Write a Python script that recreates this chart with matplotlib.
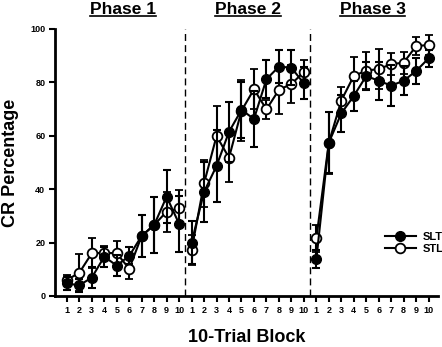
import matplotlib
matplotlib.use("Agg")
import matplotlib.pyplot as plt
from matplotlib.lines import Line2D
import numpy as np

plt.rcParams["font.family"] = ["Liberation Sans", "DejaVu Sans"]
plt.rcParams["font.weight"] = "bold"

# 10-trial blocks within each phase
blocks = list(range(1, 11))
phases = ["Phase 1", "Phase 2", "Phase 3"]

# CR percentage per block, one list per phase
slt_mean = [
    [4.7, 4.0, 6.9, 14.7, 11.4, 15.0, 22.5, 26.6, 37.2, 27.0],
    [20.0, 39.0, 48.7, 61.5, 69.7, 66.3, 81.2, 85.9, 85.5, 79.6],
    [13.7, 57.4, 68.4, 74.9, 82.4, 80.6, 78.8, 80.6, 84.3, 89.0],
]
slt_err = [
    [2.5, 2.5, 4.0, 3.7, 3.9, 3.2, 7.9, 10.6, 10.0, 10.6],
    [7.9, 11.2, 13.4, 11.2, 10.6, 10.4, 7.0, 6.2, 6.6, 6.0],
    [3.4, 11.5, 6.9, 5.5, 5.2, 7.2, 7.6, 5.4, 4.9, 3.1],
]
stl_mean = [
    [6.0, 8.7, 16.0, 16.2, 16.0, 10.2, 22.5, 26.6, 31.6, 32.8],
    [17.2, 42.2, 59.9, 51.8, 69.4, 77.4, 69.9, 77.2, 79.4, 83.9],
    [21.6, 57.4, 73.2, 82.4, 84.4, 85.0, 86.8, 87.4, 93.6, 94.0],
]
stl_err = [
    [2.0, 7.0, 5.6, 2.5, 4.5, 4.0, 7.9, 10.6, 7.5, 7.0],
    [5.6, 8.7, 11.2, 9.2, 11.5, 7.5, 3.6, 9.1, 7.0, 4.5],
    [5.0, 11.6, 5.2, 7.0, 6.9, 7.4, 4.1, 4.1, 3.5, 3.7],
]


def main():
    fig = plt.figure(figsize=(4.42, 3.47), dpi=100)
    ax = fig.add_axes([0.1244, 0.147, 0.8665, 0.7695])

    titles = []
    for p in range(3):
        x = np.arange(1, 11) + 10 * p
        ax.errorbar(x, stl_mean[p], yerr=stl_err[p], color="black", lw=1.5,
                    marker="o", ms=7, mfc="white", mec="black", mew=1.3,
                    capsize=3, capthick=1.5, elinewidth=1.5, zorder=3)
        ax.errorbar(x, slt_mean[p], yerr=slt_err[p], color="black", lw=1.5,
                    marker="o", ms=7, mfc="black", mec="black",
                    capsize=3, capthick=1.5, elinewidth=1.5, zorder=4)
        titles.append(ax.text(5.5 + 10 * p, 104.5, phases[p], ha="center",
                              va="bottom", fontsize=12.5, fontweight="bold"))

    for xd in (10.5, 20.5):
        ax.plot([xd, xd], [0, 100], color="black", lw=1, ls=(0, (5, 3)), zorder=2)

    ax.set_xlim(0.05, 30.75)
    ax.set_ylim(0, 100)
    ax.set_xticks(range(1, 31))
    ax.set_xticklabels(blocks * 3, fontsize=6.5, fontweight="bold")
    ax.set_yticks(range(0, 101, 20))
    ax.set_yticklabels(range(0, 101, 20), fontsize=6.5, fontweight="bold")
    ax.tick_params(direction="out", length=4, width=1.5, pad=3)
    for side in ("top", "right"):
        ax.spines[side].set_visible(False)
    for side in ("left", "bottom"):
        ax.spines[side].set_linewidth(2)

    ax.set_xlabel("10-Trial Block", fontsize=13, fontweight="bold", labelpad=10)
    ax.set_ylabel("CR Percentage", fontsize=13, fontweight="bold", labelpad=8)

    handles = [
        Line2D([], [], color="black", lw=1.5, marker="o", ms=7, mfc="black"),
        Line2D([], [], color="black", lw=1.5, marker="o", ms=7, mfc="white", mew=1.3),
    ]
    ax.legend(handles, ["SLT", "STL"], loc="lower right",
              bbox_to_anchor=(1.04, 0.12), frameon=False, handlelength=2.8,
              handletextpad=0.6, labelspacing=0.15,
              prop={"weight": "bold", "size": 8})

    # underline the phase titles to the width of the text
    fig.canvas.draw()
    inv = ax.transData.inverted()
    for t in titles:
        bb = t.get_window_extent()
        (x0, y0), (x1, _) = inv.transform([(bb.x0, bb.y0 + 1), (bb.x1, bb.y0)])
        ax.plot([x0, x1], [y0, y0], color="black", lw=1.2, clip_on=False)

    plt.savefig("out.png", dpi=100)


if __name__ == "__main__":
    main()
